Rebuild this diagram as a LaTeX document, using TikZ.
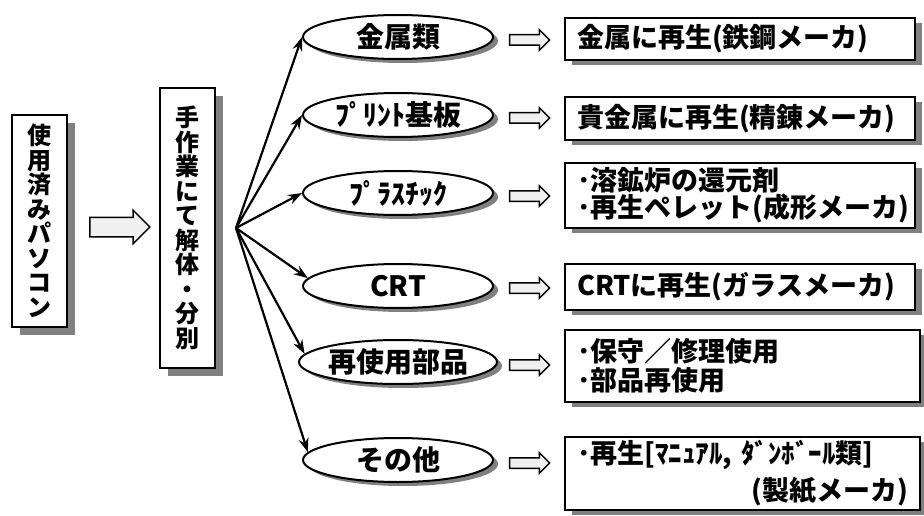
\documentclass[tikz,border=0pt]{standalone}
\usepackage{fontspec}
\setmainfont{Noto Sans CJK JP}
\usetikzlibrary{shapes.geometric,shapes.arrows,shadows,arrows.meta}

\tikzset{
  stackbox/.style={draw, line width=2pt, fill=white, inner sep=0pt, minimum width=55pt,
    align=center, font=\bfseries\fontsize{24}{24.5}\selectfont,
    drop shadow={shadow xshift=8pt, shadow yshift=-8pt, fill=black!50, opacity=1}},
  part/.style={ellipse, draw, line width=2pt, fill=white, inner sep=0pt,
    minimum width=190pt, minimum height=44pt, font=\bfseries\fontsize{28}{28}\selectfont,
    drop shadow={shadow xshift=5pt, shadow yshift=-4pt, fill=black!50, opacity=1}},
  result/.style={draw, line width=2pt, fill=white, inner xsep=12pt, inner ysep=0pt,
    text width=326pt, align=left, font=\bfseries\fontsize{27}{27}\selectfont,
    drop shadow={shadow xshift=7pt, shadow yshift=-5pt, fill=black!50, opacity=1}},
  bigarrow/.style={single arrow, draw, fill=gray!12, line width=1.5pt, inner xsep=0pt, inner ysep=9pt,
    single arrow head extend=7pt, minimum height=60pt},
  smallarrow/.style={bigarrow, inner ysep=4.5pt, single arrow head extend=5pt, minimum height=40pt},
  fanline/.style={-{Stealth[length=14pt, width=10pt]}, line width=2.2pt}
}

\begin{document}
\begin{tikzpicture}[x=1pt, y=-1pt]
  \useasboundingbox (0,0) rectangle (924,516);

  % left column
  \node[stackbox, minimum height=212pt] (pc) at (39.5,221) {使\\用\\済\\み\\パ\\ソ\\コ\\ン};
  \node[bigarrow] (go) at (115,227) {};
  \node[stackbox, minimum height=280pt] (sort) at (187.5,228) {手\\作\\業\\に\\て\\解\\体\\・\\分\\別};
  \coordinate (fan) at ([xshift=20pt]sort.east);

  % sorted parts
  \node[part] (metal) at (398,37) {金属類};
  \node[part] (board) at (398,115) {ﾌﾟﾘﾝﾄ基板};
  \node[part] (plastic) at (398,193) {ﾌﾟﾗｽﾁｯｸ};
  \node[part] (crt) at (398,286) {CRT};
  \node[part] (reuse) at (398,362) {再使用部品};
  \node[part] (other) at (398,460) {その他};

  \draw[fanline] (fan) -- (metal.west);
  \draw[fanline] (fan) -- (board.west);
  \draw[fanline] (fan) -- (plastic.west);
  \draw[fanline] (fan) -- (crt.175);
  \draw[fanline] (fan) -- (reuse.175);
  \draw[fanline] (fan) -- (other.175);

  % where they go
  \node[smallarrow] (a1) at (527,40) {};
  \node[smallarrow] (a2) at (527,118) {};
  \node[smallarrow] (a3) at (527,196) {};
  \node[smallarrow] (a4) at (527,288) {};
  \node[smallarrow] (a5) at (527,365) {};
  \node[smallarrow] (a6) at (527,463) {};

  \node[result, minimum height=42pt] (r1) at (740,39) {金属に再生(鉄鋼メーカ)};
  \node[result, minimum height=43pt] (r2) at (740,118.5) {貴金属に再生(精錬メーカ)};
  \node[result, minimum height=65pt] (r3) at (740,195.5) {･溶鉱炉の還元剤\\･再生ペレット(成形メーカ)};
  \node[result, minimum height=46pt] (r4) at (740,287) {CRTに再生(ガラスメーカ)};
  \node[result, minimum height=72pt, text width=331pt] (r5) at (742.5,366) {･保守／修理使用\\[2pt]･部品再使用};
  \node[result, minimum height=73pt, text width=331pt] (r6) at (742.5,473.5) {･再生[ﾏﾆｭｱﾙ, ﾀﾞﾝﾎﾞｰﾙ類]\\[7pt]\hspace*{\fill}(製紙メーカ)};
\end{tikzpicture}
\end{document}
